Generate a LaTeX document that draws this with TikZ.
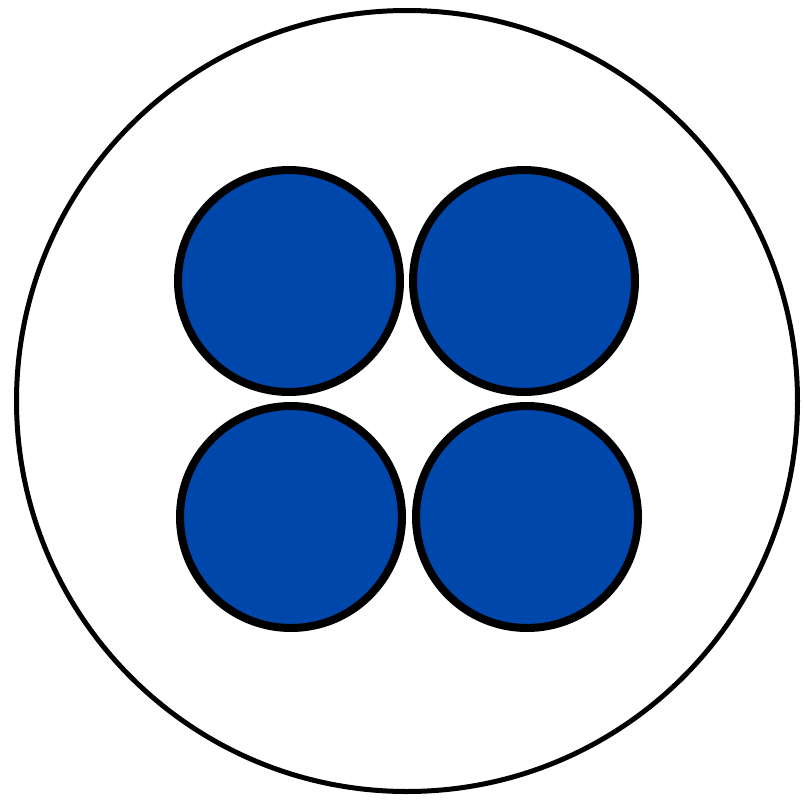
\documentclass[tikz,border=0pt]{standalone}
\begin{document}
\begin{tikzpicture}[x=1pt,y=-1pt,
  outer/.style={circle,draw=black,line width=5pt,minimum size=781pt,inner sep=0pt},
  wire/.style={circle,draw=black,fill=wireblue,line width=8pt,minimum size=222pt,inner sep=0pt}]
\definecolor{wireblue}{RGB}{0,71,171}
\useasboundingbox (0,0) rectangle (804,801);
\node[outer] (jacket) at (407,401) {};
\node[wire] (w1) at (289,281) {};
\node[wire] (w2) at (524,281) {};
\node[wire] (w3) at (291,517) {};
\node[wire] (w4) at (527,517) {};
\end{tikzpicture}
\end{document}
